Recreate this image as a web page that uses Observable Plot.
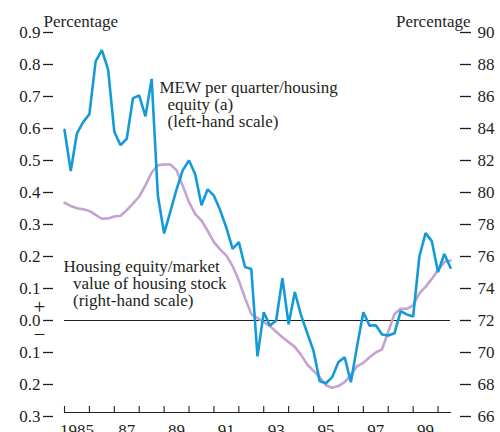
<!DOCTYPE html>
<html>
<head>
<meta charset="utf-8">
<script src="https://cdn.jsdelivr.net/npm/d3@7"></script>
<script src="https://cdn.jsdelivr.net/npm/@observablehq/plot@0.6"></script>
<style>
  html, body { margin: 0; padding: 0; background: #fff; }
  #chart svg { display: block; }
</style>
</head>
<body>
<div id="chart"></div>
<script>
// ---- Data (quarterly, 1985 Q1 onwards) ----
const startYear = 1985;
// MEW per quarter / housing equity, per cent (left-hand scale)
const mew = [0.596,0.467,0.585,0.62,0.645,0.81,0.845,0.785,0.59,0.548,
             0.568,0.695,0.703,0.638,0.755,0.39,0.272,0.34,0.41,0.47,
             0.50,0.457,0.36,0.41,0.39,0.345,0.29,0.224,0.245,0.167,
             0.161,-0.112,0.026,-0.016,0.0,0.132,-0.012,0.089,0.016,-0.04,
             -0.095,-0.19,-0.196,-0.177,-0.13,-0.115,-0.193,-0.08,0.026,-0.016,
             -0.015,-0.044,-0.047,-0.04,0.029,0.019,0.0125,0.20,0.273,0.248,
             0.151,0.208,0.165];
// Housing equity / market value of housing stock, per cent (right-hand scale)
const equityRatio = [79.36,79.16,79.02,78.95,78.85,78.6,78.36,78.38,78.5,78.55,
                     78.9,79.3,79.75,80.45,81.25,81.7,81.75,81.75,81.4,80.4,
                     79.4,78.65,78.25,77.6,76.9,76.45,76.05,75.4,74.5,73.4,
                     72.4,72.15,71.9,71.65,71.3,70.95,70.65,70.35,69.85,69.25,
                     68.85,68.45,67.95,67.8,67.9,68.15,68.6,69.15,69.35,69.7,
                     70.0,70.2,71.3,72.4,72.73,72.73,72.95,73.7,74.1,74.6,
                     75.15,75.65,75.75];
const leftTicks = [-0.3,-0.2,-0.1,0,0.1,0.2,0.3,0.4,0.5,0.6,0.7,0.8,0.9];
const rightTicks = [66,68,70,72,74,76,78,80,82,84,86,88,90];
const yearTicks = [1985,1986,1987,1988,1989,1990,1991,1992,1993,1994,1995,1996,1997,1998,1999,2000];
const yearLabels = ["1985","87","89","91","93","95","97","99"];
const yearLabelYears = [1985,1987,1989,1991,1993,1995,1997,1999];
const mewLabel = ["MEW per quarter/housing", "equity (a)", "(left-hand scale)"];
const equityLabel = ["Housing equity/market", "value of housing stock", "(right-hand scale)"];

// right-hand scale maps onto left-hand units: 72 <-> 0, 2 points <-> 0.1
const rightToLeft = r => (r - 72) / 20;
const leftToRight = v => 72 + 20 * v;

const mewData = mew.map((v, i) => ({x: startYear + i / 4, y: v}));
const eqData = equityRatio.map((r, i) => ({x: startYear + i / 4, y: rightToLeft(r)}));

const ink = "#231f20";
const font = "Liberation Serif, Times New Roman, serif";

const chart = Plot.plot({
  width: 500,
  height: 432,
  marginLeft: 64,
  marginRight: 50,
  marginTop: 32,
  marginBottom: 20,
  style: {fontFamily: font, fontSize: "17px", color: ink, background: "#fff"},
  x: {domain: [1985, 2000.5], label: null},
  y: {domain: [-0.3, 0.9], range: [416, 32], label: null},
  marks: [
    // zero line
    Plot.ruleY([0], {stroke: ink, strokeWidth: 1.1}),
    // x axis line
    Plot.frame({anchor: "bottom", stroke: ink, strokeWidth: 1.1}),
    // year ticks (upward)
    Plot.axisX(yearTicks, {anchor: "bottom", tickSize: -6, tickFormat: () => "", label: null, stroke: ink, strokeWidth: 1.1}),
    // year labels centred in each year
    Plot.axisX(yearLabelYears.map(y => y + 0.5), {anchor: "bottom", tickSize: 0, tickPadding: 11, label: null,
      tickFormat: (d) => yearLabels[yearLabelYears.indexOf(d - 0.5)], fill: ink}),
    // left axis
    Plot.axisY(leftTicks, {anchor: "left", tickSize: 10, tickPadding: 3, dx: -11, label: null,
      tickFormat: d => Math.abs(d).toFixed(1), stroke: ink, strokeWidth: 1.3, fill: ink}),
    // right axis
    Plot.axisY(rightTicks.map(rightToLeft), {anchor: "right", tickSize: 11, tickPadding: 7, dx: 9, label: null,
      tickFormat: d => String(Math.round(leftToRight(d))), stroke: ink, strokeWidth: 1.3, fill: ink}),
    // series
    Plot.line(eqData, {x: "x", y: "y", stroke: "#c4a3d0", strokeWidth: 2.6, strokeLinejoin: "round"}),
    Plot.line(mewData, {x: "x", y: "y", stroke: "#139ad8", strokeWidth: 2.6, strokeLinejoin: "miter"}),
    // axis captions
    Plot.text(["Percentage"], {frameAnchor: "top-left", dx: -21, dy: -6, textAnchor: "start", lineAnchor: "bottom", fill: ink}),
    Plot.text(["Percentage"], {frameAnchor: "top-right", dx: 20, dy: -6, textAnchor: "end", lineAnchor: "bottom", fill: ink}),
    // sign markers
    Plot.text(["+"], {frameAnchor: "left", y: 0.04, dx: -25, textAnchor: "middle", lineAnchor: "middle", fontSize: 21, fill: ink}),
    Plot.text(["\u2013"], {frameAnchor: "left", y: -0.04, dx: -25, textAnchor: "middle", lineAnchor: "middle", fontSize: 19, fill: ink}),
    // annotations
    Plot.text([mewLabel[0]], {frameAnchor: "top-left", dx: 95, dy: 60, textAnchor: "start", lineAnchor: "bottom", fill: ink}),
    Plot.text([mewLabel[1]], {frameAnchor: "top-left", dx: 103, dy: 77, textAnchor: "start", lineAnchor: "bottom", fill: ink}),
    Plot.text([mewLabel[2]], {frameAnchor: "top-left", dx: 103, dy: 94, textAnchor: "start", lineAnchor: "bottom", fill: ink}),
    Plot.text([equityLabel[0]], {frameAnchor: "top-left", dx: -1, dy: 239, textAnchor: "start", lineAnchor: "bottom", fill: ink}),
    Plot.text([equityLabel[1]], {frameAnchor: "top-left", dx: 8.5, dy: 256, textAnchor: "start", lineAnchor: "bottom", fill: ink}),
    Plot.text([equityLabel[2]], {frameAnchor: "top-left", dx: 8.5, dy: 273, textAnchor: "start", lineAnchor: "bottom", fill: ink})
  ]
});
document.getElementById("chart").appendChild(chart);
</script>
</body>
</html>
